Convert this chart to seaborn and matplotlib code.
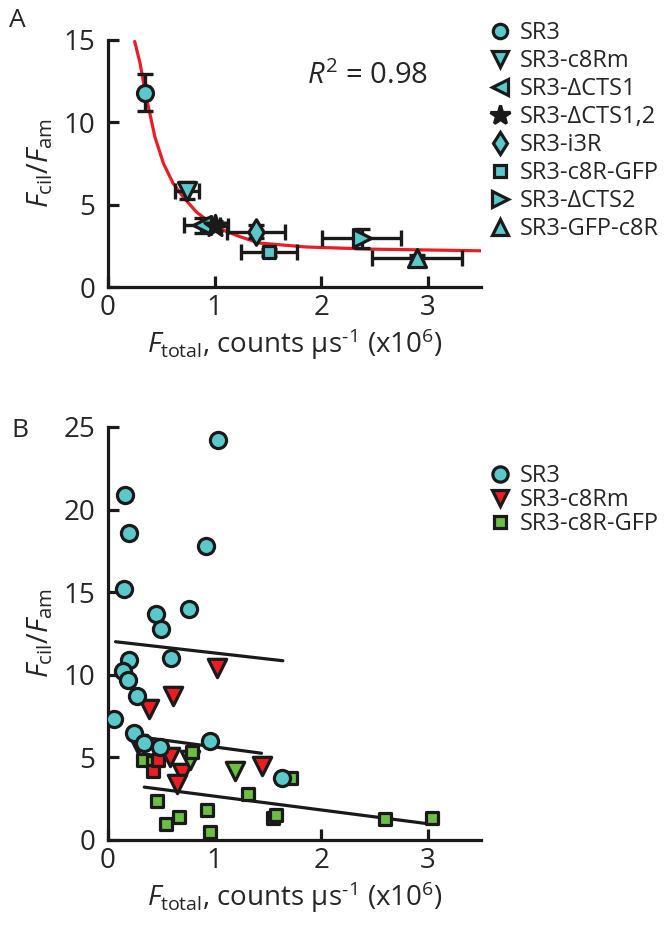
import matplotlib
matplotlib.use("Agg")
import numpy as np
import pandas as pd
import seaborn as sns
import matplotlib.pyplot as plt
from matplotlib.lines import Line2D

# ---- panel A: mean values per construct ----
constructs_a = ['SR3', 'SR3-c8Rm', 'SR3-ΔCTS1', 'SR3-ΔCTS1,2', 'SR3-i3R',
                'SR3-c8R-GFP', 'SR3-ΔCTS2', 'SR3-GFP-c8R']
ftot_a = [0.35, 0.74, 0.88, 1.00, 1.39, 1.51, 2.38, 2.90]
ratio_a = [11.8, 5.85, 3.75, 3.70, 3.35, 2.10, 2.95, 1.75]
ftot_err_a = [0.03, 0.11, 0.17, 0.13, 0.27, 0.26, 0.37, 0.42]
ratio_err_a = [1.1, 0.5, 0.45, 0.3, 0.4, 0.2, 0.55, 0.2]

# red fit curve
fit_x = [0.25, 0.30, 0.35, 0.39, 0.44, 0.52, 0.61, 0.70, 0.83, 0.96, 1.10,
         1.24, 1.42, 1.86, 2.48, 3.50]
fit_y = [14.9, 13.6, 11.8, 10.6, 9.1, 7.5, 6.3, 5.5, 4.55, 3.9, 3.4,
         3.05, 2.67, 2.43, 2.30, 2.20]

# ---- panel B: single cells ----
sr3_x = [1.03, 0.16, 0.20, 0.92, 0.15, 0.76, 0.45, 0.50, 0.59, 0.20, 0.14,
         0.19, 0.27, 0.06, 0.24, 0.34, 0.49, 0.96, 1.63]
sr3_y = [24.2, 20.9, 18.6, 17.8, 15.2, 14.0, 13.7, 12.8, 11.0, 10.9, 10.2,
         9.7, 8.7, 7.3, 6.5, 5.9, 5.6, 6.0, 3.75]

c8rm_x = [1.02, 0.61, 0.38, 0.58, 0.69, 0.65, 1.44, 0.28]
c8rm_y = [10.4, 8.7, 7.9, 5.0, 4.05, 3.4, 4.45, 5.8]
c8rm_green_x = [1.19, 0.77]
c8rm_green_y = [4.2, 4.85]
c8rm_square_x = [0.42, 0.47]
c8rm_square_y = [4.2, 4.85]

gfp_x = [0.33, 0.42, 0.79, 0.46, 0.54, 0.67, 0.93, 0.96, 1.31, 1.55, 1.58,
         1.72, 2.60, 3.04]
gfp_y = [4.85, 4.75, 5.35, 2.35, 0.95, 1.4, 1.8, 0.5, 2.8, 1.3, 1.5,
         3.75, 1.25, 1.35]

# regression lines (end points)
reg_sr3_x = [0.07, 1.64]
reg_sr3_y = [12.0, 10.85]
reg_c8rm_x = [0.38, 1.44]
reg_c8rm_y = [6.17, 5.25]
reg_gfp_x = [0.34, 3.04]
reg_gfp_y = [3.2, 0.95]

cyan = '#5BC8CB'
red = '#EC1C24'
green = '#6CBE45'
edge = '#1A1A1A'

sns.set_style('ticks')
plt.rcParams['font.family'] = ['Open Sans', 'DejaVu Sans']
plt.rcParams['mathtext.fontset'] = 'custom'
plt.rcParams['mathtext.rm'] = 'Open Sans'
plt.rcParams['mathtext.it'] = 'Open Sans:italic'

fig = plt.figure(figsize=(6.71, 9.26), dpi=100)
axA = fig.add_axes([0.161, 0.690, 0.556, 0.267])
axB = fig.add_axes([0.161, 0.0929, 0.556, 0.446])

xlab = r'$F_{\rm total}$, counts μs$^{\rm ‐1}$ (x10$^{\rm 6}$)'
ylab = r'$F_{\rm cil}/F_{\rm am}$'

for ax in (axA, axB):
    sns.despine(ax=ax)
    for s in ('left', 'bottom'):
        ax.spines[s].set_linewidth(2.3)
        ax.spines[s].set_color(edge)
    ax.tick_params(direction='in', length=8, width=2.3, color=edge,
                   labelsize=20)
    ax.tick_params(axis='x', pad=5)
    ax.tick_params(axis='y', pad=9)
    ax.set_xlim(0, 3.5)
    ax.set_xticks([0, 1, 2, 3])

# ---- panel A ----
axA.set_ylim(0, 15)
axA.set_yticks([0, 5, 10, 15])
sns.lineplot(x=fit_x, y=fit_y, ax=axA, color=red, lw=2.3, sort=False,
             estimator=None, zorder=2)

markers_a = {'SR3': 'o', 'SR3-c8Rm': 'v', 'SR3-ΔCTS1': '<', 'SR3-ΔCTS1,2': '*',
             'SR3-i3R': 'd', 'SR3-c8R-GFP': 's', 'SR3-ΔCTS2': '>',
             'SR3-GFP-c8R': '^'}
sizes_a = {'o': 11.5, 'v': 13, '<': 13, '*': 16, 'd': 13, 's': 9, '>': 13,
           '^': 13}

axA.errorbar(ftot_a, ratio_a, xerr=ftot_err_a, yerr=ratio_err_a, fmt='none',
             ecolor=edge, elinewidth=2.4, capsize=5.5, capthick=2.4, zorder=3)
df_a = pd.DataFrame({'x': ftot_a, 'y': ratio_a, 'construct': constructs_a})
for name, grp in df_a.groupby('construct', sort=False):
    m = markers_a[name]
    fc = edge if m == '*' else cyan
    sns.scatterplot(data=grp, x='x', y='y', ax=axA, marker=m,
                    s=sizes_a[m] ** 2, color=fc, edgecolor=edge,
                    linewidth=2.3, zorder=4, legend=False)

axA.text(1.87, 12.8, r'$R^2$ = 0.98', fontsize=21, va='center', ha='left')

handles_a = []
for name in constructs_a:
    m = markers_a[name]
    fc = edge if m == '*' else cyan
    handles_a.append(Line2D([], [], ls='none', marker=m, ms=sizes_a[m] * 0.9,
                            mfc=fc, mec=edge, mew=2.3, label=name))
fig.legend(handles=handles_a, loc='upper left', bbox_to_anchor=(0.727, 0.9775),
           frameon=False, fontsize=17, handlelength=1.0, handletextpad=0.35,
           labelspacing=0.17, borderpad=0, borderaxespad=0)

# ---- panel B ----
axB.set_ylim(0, 25)
axB.set_yticks([0, 5, 10, 15, 20, 25])
for lx, ly in ((reg_sr3_x, reg_sr3_y), (reg_c8rm_x, reg_c8rm_y),
               (reg_gfp_x, reg_gfp_y)):
    sns.lineplot(x=lx, y=ly, ax=axB, color=edge, lw=2.3, sort=False,
                 estimator=None, zorder=2)

sns.scatterplot(x=c8rm_x, y=c8rm_y, ax=axB, marker='v', s=175, color=red,
                edgecolor=edge, linewidth=2.3, zorder=3)
sns.scatterplot(x=c8rm_green_x, y=c8rm_green_y, ax=axB, marker='v', s=175,
                color=green, edgecolor=edge, linewidth=2.3, zorder=3)
sns.scatterplot(x=gfp_x, y=gfp_y, ax=axB, marker='s', s=85, color=green,
                edgecolor=edge, linewidth=2.3, zorder=4)
sns.scatterplot(x=c8rm_square_x, y=c8rm_square_y, ax=axB, marker='s', s=85,
                color=red, edgecolor=edge, linewidth=2.3, zorder=4)
sns.scatterplot(x=sr3_x, y=sr3_y, ax=axB, marker='o', s=135, color=cyan,
                edgecolor=edge, linewidth=2.3, zorder=5)

for ax in (axA, axB):
    ax.set_xlabel(xlab, fontsize=20, labelpad=3)
    ax.set_ylabel(ylab, fontsize=21, labelpad=6)

handles_b = [
    Line2D([], [], ls='none', marker='o', ms=11, mfc=cyan, mec=edge, mew=2.3,
           label='SR3'),
    Line2D([], [], ls='none', marker='v', ms=12, mfc=red, mec=edge, mew=2.3,
           label='SR3-c8Rm'),
    Line2D([], [], ls='none', marker='s', ms=8.5, mfc=green, mec=edge, mew=2.3,
           label='SR3-c8R-GFP'),
]
fig.legend(handles=handles_b, loc='upper left', bbox_to_anchor=(0.727, 0.4985),
           frameon=False, fontsize=17, handlelength=1.0, handletextpad=0.35,
           labelspacing=0.0, borderpad=0, borderaxespad=0)

fig.text(0.014, 0.978, 'A', fontsize=19, va='center')
fig.text(0.017, 0.5355, 'B', fontsize=19, va='center')

fig.savefig('out.png', dpi=100)
